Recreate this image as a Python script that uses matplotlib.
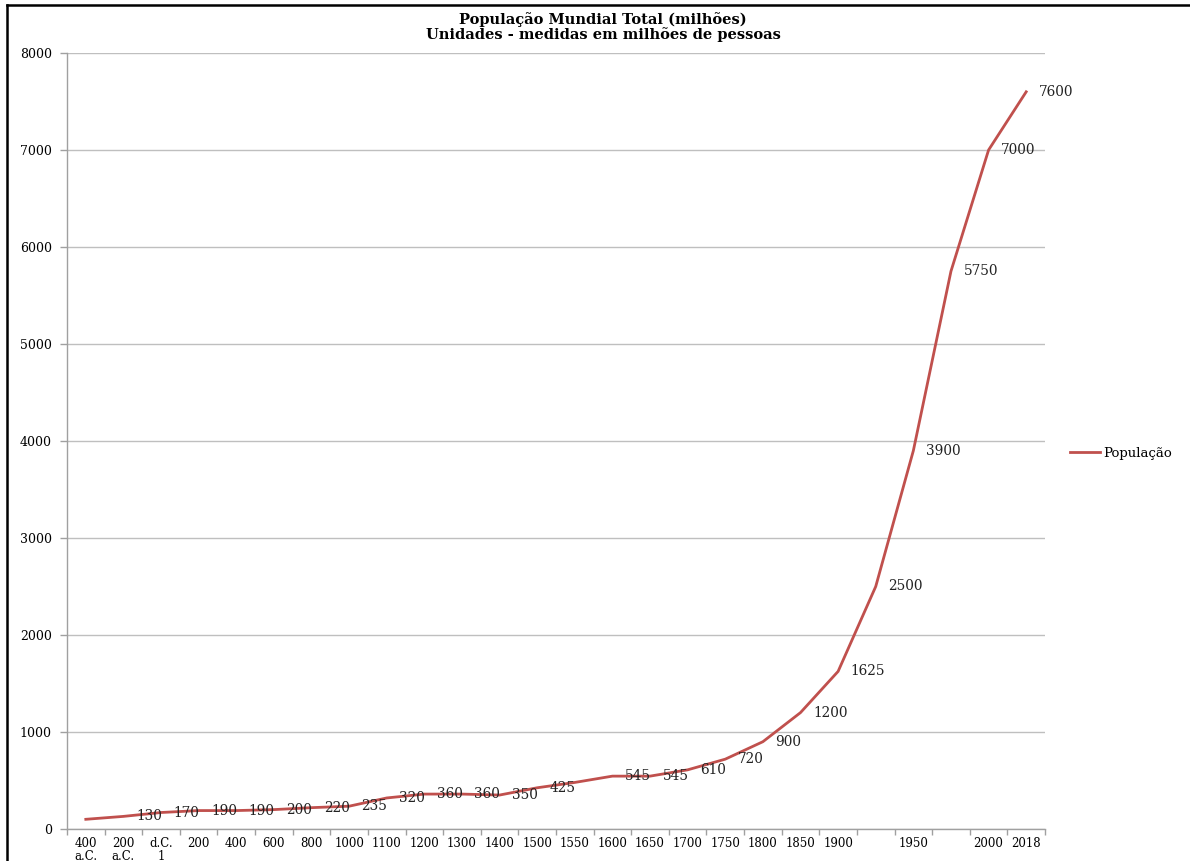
import matplotlib
matplotlib.use("Agg")
import matplotlib.pyplot as plt
from matplotlib.lines import Line2D

categories = ["400\na.C.", "200\na.C.", "d.C.\n1", "200", "400", "600", "800", "1000",
              "1100", "1200", "1300", "1400", "1500", "1550", "1600", "1650", "1700",
              "1750", "1800", "1850", "1900", "", "1950", "", "2000", "2018"]
population = [100, 130, 170, 190, 190, 200, 220, 235, 320, 360, 360, 350, 425, 480,
              545, 545, 610, 720, 900, 1200, 1625, 2500, 3900, 5750, 7000, 7600]
show_label = [False] + [True] * 12 + [False] + [True] * 12

title = "População Mundial Total (milhões)\nUnidades - medidas em milhões de pessoas"
series_name = "População"

W, H = 1190, 861
fig = plt.figure(figsize=(W / 100, H / 100), dpi=100)
fig.patch.set_facecolor("white")
font = "DejaVu Serif"

ax = fig.add_axes([67 / W, 1 - 829 / H, (1045 - 67) / W, (829 - 53) / H])
x = list(range(len(categories)))
line_color = "#C0504D"
ax.plot(x, population, color=line_color, lw=2.0, solid_joinstyle="miter", label=series_name)

for xi, v, s in zip(x, population, show_label):
    if s:
        ax.annotate(str(v), (xi, v), xytext=(9, 0), textcoords="offset points",
                    ha="left", va="center", fontsize=9.8, family=font, color="#222222")

ax.set_xlim(-0.5, len(categories) - 0.5)
ax.set_ylim(0, 8000)
ax.set_yticks(range(0, 8001, 1000))
ax.set_yticklabels([str(v) for v in range(0, 8001, 1000)], family=font, fontsize=9)
ax.yaxis.grid(True, color="#BFBFBF", lw=1.0)
ax.set_axisbelow(True)

ax.set_xticks(x)
ax.set_xticklabels(categories, family=font, fontsize=8.5, linespacing=0.95)
ax.tick_params(axis="x", which="major", length=0, pad=6)
ax.set_xticks([i - 0.5 for i in range(len(categories) + 1)], minor=True)
ax.tick_params(axis="x", which="minor", length=4, color="#A0A0A0", width=1)
ax.tick_params(axis="y", length=5, color="#A0A0A0", width=1, pad=6)

for side in ["top", "right"]:
    ax.spines[side].set_visible(False)
for side in ["left", "bottom"]:
    ax.spines[side].set_color("#A0A0A0")
    ax.spines[side].set_linewidth(1)

fig.text(603 / W, 1 - 27 / H, title, ha="center", va="center", family=font,
         fontweight="bold", fontsize=10.5, linespacing=0.95)

leg = ax.legend(loc="center left", bbox_to_anchor=(1058 / W, 1 - 453 / H),
                bbox_transform=fig.transFigure, frameon=False, handlelength=2.3,
                handletextpad=0.2, prop={"family": font, "size": 9.5})

# outer border (top and left)
fig.add_artist(Line2D([7 / W, 1], [1 - 5 / H, 1 - 5 / H], color="black", lw=1.8,
                      transform=fig.transFigure))
fig.add_artist(Line2D([7 / W, 7 / W], [0, 1 - 5 / H], color="black", lw=1.8,
                      transform=fig.transFigure))

fig.savefig("out.png", dpi=100, facecolor="white")
